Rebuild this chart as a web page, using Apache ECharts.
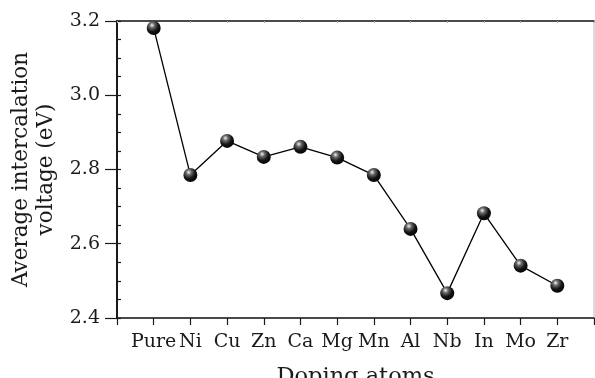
<!DOCTYPE html>
<html>
<head>
<meta charset="utf-8">
<script src="https://cdn.jsdelivr.net/npm/echarts@6/dist/echarts.min.js"></script>
<style>
  html, body { margin: 0; padding: 0; background: #fff; }
  #chart { width: 595px; height: 378px; }
</style>
</head>
<body>
<div id="chart"></div>
<script>
// doping atoms and the average intercalation voltage for each one
const atoms = ['Pure', 'Ni', 'Cu', 'Zn', 'Ca', 'Mg', 'Mn', 'Al', 'Nb', 'In', 'Mo', 'Zr'];
const voltage = [3.181, 2.785, 2.877, 2.834, 2.861, 2.832, 2.785, 2.640, 2.467, 2.682, 2.541, 2.487];
const yTicks = [2.4, 2.6, 2.8, 3.0, 3.2];

const FONT = 'DejaVu Serif';
const INK = '#1a1a1a';

const points = voltage.map((v, i) => [i + 1, v]);

const chart = echarts.init(document.getElementById('chart'), null, { renderer: 'canvas' });

const sphere = {
  type: 'radial', x: 0.38, y: 0.3, r: 0.75,
  colorStops: [
    { offset: 0, color: '#f4f4f4' },
    { offset: 0.25, color: '#6a6a6a' },
    { offset: 0.6, color: '#151515' },
    { offset: 1, color: '#000' }
  ]
};

chart.setOption({
  animation: false,
  backgroundColor: '#fff',
  grid: {
    left: 117, right: 1, top: 21, bottom: 60,
    containLabel: false, outerBoundsMode: 'none',
    show: true, borderColor: '#bbb', borderWidth: 1
  },
  xAxis: [
    {
      type: 'value', min: 0, max: 13, interval: 1, position: 'bottom',
      axisLine: { show: true, onZero: false, lineStyle: { color: INK, width: 1.5 } },
      axisTick: { show: true, length: 7, lineStyle: { color: INK, width: 1.2 } },
      splitLine: { show: false },
      axisLabel: {
        fontFamily: FONT, fontSize: 19, color: INK, margin: 15,
        formatter: v => atoms[v - 1] || ''
      },
      name: 'Doping atoms', nameLocation: 'middle', nameGap: 48,
      nameTextStyle: { fontFamily: FONT, fontSize: 22.5, color: INK }
    },
    {
      type: 'value', min: 0, max: 13, interval: 1, position: 'top',
      axisLine: { show: true, onZero: false, lineStyle: { color: INK, width: 1.5 } },
      axisTick: { show: true, inside: true, length: 2, lineStyle: { color: '#aaa' } },
      splitLine: { show: false },
      axisLabel: { show: false }
    }
  ],
  yAxis: [
    {
      type: 'value', min: 2.4, max: 3.2, interval: 0.2, position: 'left',
      axisLine: { show: true, onZero: false, lineStyle: { color: INK, width: 2 } },
      axisTick: { show: true, length: 12, lineStyle: { color: INK, width: 1.2 } },
      splitLine: { show: false },
      axisLabel: {
        fontFamily: FONT, fontSize: 19, color: INK, margin: 17,
        customValues: yTicks,
        formatter: v => v.toFixed(1)
      },
      name: 'Average intercalation\nvoltage (eV)', nameLocation: 'middle', nameGap: 52,
      nameTextStyle: { fontFamily: FONT, fontSize: 21.5, color: INK, lineHeight: 25, align: 'center' }
    },
    {
      type: 'value', min: 2.4, max: 3.2, interval: 0.05, position: 'left',
      axisLine: { show: false },
      axisTick: { show: true, inside: true, length: 4, lineStyle: { color: INK, width: 1.2 } },
      splitLine: { show: false },
      axisLabel: { show: false }
    }
  ],
  series: [
    {
      type: 'line',
      data: points,
      symbol: 'circle',
      symbolSize: 14,
      lineStyle: { color: '#000', width: 1.3 },
      itemStyle: { color: sphere, borderWidth: 0 },
      z: 5
    }
  ]
});
</script>
</body>
</html>
